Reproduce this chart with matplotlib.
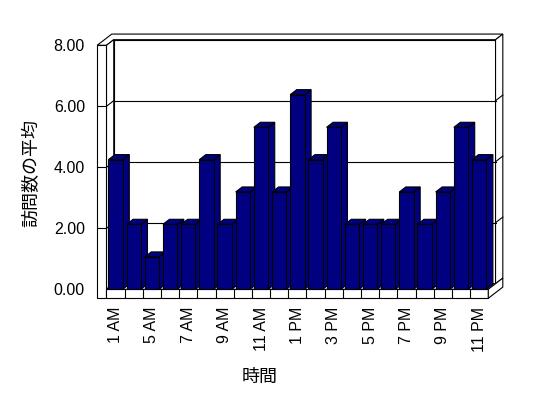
import matplotlib.pyplot as plt
import numpy as np
from matplotlib.patches import Polygon

hours = ['1 AM', '2 AM', '5 AM', '6 AM', '7 AM', '8 AM', '9 AM', '10 AM', '11 AM',
         '12 PM', '1 PM', '2 PM', '3 PM', '4 PM', '5 PM', '6 PM', '7 PM', '8 PM',
         '9 PM', '10 PM', '11 PM']
visits = [4.25, 2.13, 1.06, 2.13, 2.13, 4.25, 2.13, 3.19, 5.31, 3.19, 6.38,
          4.25, 5.31, 2.13, 2.13, 2.13, 3.19, 2.13, 3.19, 5.31, 4.25]
yticks = [0, 2, 4, 6, 8]
ytick_labels = ['0.00', '2.00', '4.00', '6.00', '8.00']

navy = '#000080'
lw = 0.8
# oblique depth step (data units), wall / floor thickness
DX, DY = 0.40, 0.184
LW, FT = 0.51, 0.295
BW, BD = 0.79, 0.9

fig = plt.figure(figsize=(5.48, 3.98), dpi=100)
ax = fig.add_axes([0.1943, 0.2731, 0.6967, 0.6131])
n = len(visits)
x = np.arange(n)
x0, x1 = -0.5, n - 0.5
ymax = yticks[-1]
ax.set_xlim(x0, x1)
ax.set_ylim(0, ymax)
for s in ax.spines.values():
    s.set_visible(False)


def poly(pts, fc='white', z=1):
    ax.add_patch(Polygon(pts, closed=True, facecolor=fc, edgecolor='black',
                         linewidth=lw, zorder=z, clip_on=False, joinstyle='miter'))


def line(xs, ys, z=1.5):
    ax.plot(xs, ys, color='black', lw=lw, zorder=z, clip_on=False)


# back wall front face
poly([(x0 + DX, DY), (x1 + DX, DY), (x1 + DX, ymax + DY), (x0 + DX, ymax + DY)])
# top of back wall + left wall
poly([(x0 - LW, ymax), (x0, ymax), (x0 + DX, ymax + DY), (x1 + DX, ymax + DY),
      (x1 + 2 * DX, ymax + 2 * DY), (x0 - LW + 2 * DX, ymax + 2 * DY)])
# right end of back wall
poly([(x1 + DX, DY), (x1 + DX, ymax + DY), (x1 + 2 * DX, ymax + 2 * DY), (x1 + 2 * DX, 2 * DY)])
# left wall inner face
poly([(x0, 0), (x0, ymax), (x0 + DX, ymax + DY), (x0 + DX, DY)])
# left wall front face
poly([(x0 - LW, -FT), (x0, -FT), (x0, ymax), (x0 - LW, ymax)])
# floor top, front, right end
poly([(x0, 0), (x1, 0), (x1 + DX, DY), (x0 + DX, DY)])
poly([(x0, -FT), (x1, -FT), (x1, 0), (x0, 0)])
poly([(x1, -FT), (x1, 0), (x1 + DX, DY), (x1 + 2 * DX, 2 * DY),
      (x1 + 2 * DX, 2 * DY - FT)])

# gridlines on walls
for v in yticks[1:-1]:
    line([x0 + DX, x1 + DX], [v + DY, v + DY])
    line([x0, x0 + DX], [v, v + DY])
    line([x0 - LW, x0], [v, v])
    line([x1 + DX, x1 + 2 * DX], [v + DY, v + 2 * DY])

# category dividers on floor front
for k in range(n - 1):
    line([k + 0.5, k + 0.5], [-FT, 0])

# bars: sides/tops then fronts, left to right
bars = ax.bar(x, visits, width=BW, color=navy, edgecolor='black', linewidth=lw)
for i, (b, v) in enumerate(zip(bars, visits)):
    z = 3 + i * 0.01
    l, r = i - BW / 2, i + BW / 2
    poly([(r, 0), (r, v), (r + BD * DX, v + BD * DY), (r + BD * DX, BD * DY)], navy, z)
    poly([(l, v), (r, v), (r + BD * DX, v + BD * DY), (l + BD * DX, v + BD * DY)], navy, z)
    b.set_zorder(z + 0.005)
    b.set_clip_on(False)

ax.set_yticks(yticks, ytick_labels)
ax.set_xticks(x[::2], hours[::2], rotation=90)
ax.tick_params(axis='y', length=0, pad=15.5, labelsize=11.5)
ax.tick_params(axis='x', length=0, pad=12.7, labelsize=11.5)
for t in ax.get_xticklabels() + ax.get_yticklabels():
    t.set_fontfamily('Liberation Sans')

ax.set_xlabel('時間', fontsize=13, fontfamily='Noto Sans CJK JP')
ax.xaxis.set_label_coords(0.402, -0.3225)
ax.set_ylabel('訪問数の平均', fontsize=13, fontfamily='Noto Sans CJK JP')
ax.yaxis.set_label_coords(-0.174, 0.477)

fig.savefig('out.png', dpi=100)
